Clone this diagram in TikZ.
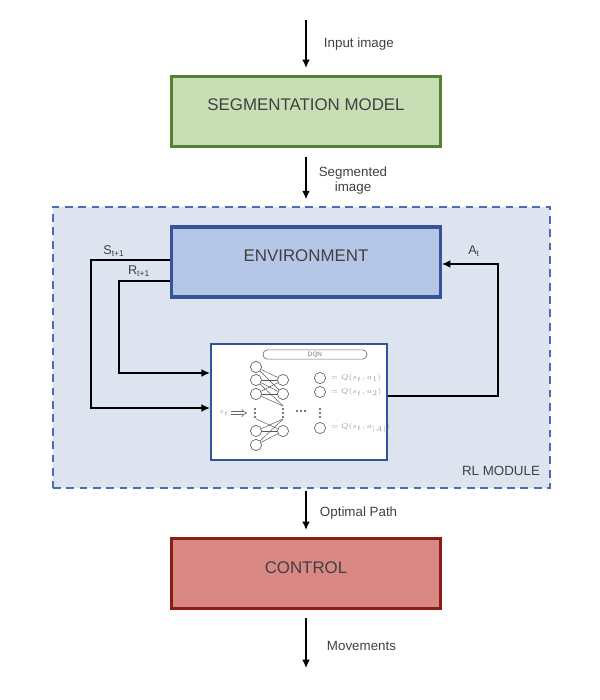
\documentclass[tikz,border=0pt]{standalone}
\usepackage{fontspec}
\setmainfont{Liberation Sans}
\usetikzlibrary{arrows.meta,positioning}
\definecolor{segfill}{HTML}{C8DFB6}
\definecolor{segline}{HTML}{548235}
\definecolor{envfill}{HTML}{B5C6E6}
\definecolor{envline}{HTML}{34539A}
\definecolor{ctrlfill}{HTML}{D98884}
\definecolor{ctrlline}{HTML}{8B1C18}
\definecolor{rlfill}{HTML}{DDE4F0}
\definecolor{rlline}{HTML}{4A6DB5}
\definecolor{txt}{HTML}{404040}
\tikzset{main box/.style={draw,line width=2.2pt,minimum width=6.72cm,minimum height=1.75cm,inner sep=0pt},
  box label/.style={font=\fontsize{12}{14}\selectfont,text=txt},
  small label/.style={font=\fontsize{9.5}{10.7}\selectfont,text=txt,align=center},
  flow/.style={line width=0.9pt,-{Latex[length=6pt,width=5.5pt]}},
  neuron/.style={circle,draw=gray!80!black,line width=0.5pt,minimum size=0.28cm,inner sep=0pt},
  wire/.style={gray!70!black,line width=0.35pt},
  tiny label/.style={font=\fontsize{4.5}{5}\selectfont,text=gray!80}}

\begin{document}
\begin{tikzpicture}[x=0.025cm,y=-0.025cm]
	\useasboundingbox (0,0) rectangle (600,700);
	% boxes
	\node[main box,fill=segfill,draw=segline] (seg) at (306,111.5) {};
	\node[box label] (segtext) at (306,104.5) {SEGMENTATION MODEL};
	\node[draw=rlline,fill=rlfill,line width=1pt,dash pattern=on 5.5pt off 4pt,minimum width=12.425cm,minimum height=7.025cm,inner sep=0pt] (rl) at (301.5,347.5) {};
	\node[box label,font=\fontsize{9.5}{11}\selectfont] (rltext) at (501,471) {RL MODULE};
	\node[main box,fill=envfill,draw=envline] (env) at (306,262) {};
	\node[box label] (envtext) at (306,256) {ENVIRONMENT};
	\node[draw=envline,fill=white,line width=1.6pt,minimum width=4.4cm,minimum height=2.9cm,inner sep=0pt] (dqn) at (299,402) {};
	\node[main box,fill=ctrlfill,draw=ctrlline] (ctrl) at (306,573.5) {};
	\node[box label] (ctrltext) at (306,567.5) {CONTROL};
	% main flow
	\coordinate (in) at (306,20);
	\coordinate (out) at (306,668);
	\draw[flow,shorten >=0.175cm] (in) -- (seg);
	\draw[flow,shorten <=0.225cm,shorten >=0.175cm] (seg) -- (seg |- rl.north);
	\draw[flow,shorten <=0.05cm,shorten >=0.175cm] (ctrl |- rl.south) -- (ctrl);
	\draw[flow,shorten <=0.2cm] (ctrl) -- (out);
	\node[small label,anchor=west] (inlabel) at (319,44) {Input image};
	\node[small label] (seglabel) at (353,181) {Segmented\\image};
	\node[small label,anchor=west] (optlabel) at (315,513) {Optimal Path};
	\node[small label,anchor=west] (movlabel) at (322,646) {Movements};
	% loop
	\draw[flow] (env.west |- 0,260) -- (91,260) -- (91,408) -- (dqn.west |- 0,408);
	\draw[flow] (env.west |- 0,281) -- (119,281) -- (119,373) -- (dqn.west |- 0,373);
	\draw[flow] (dqn.east |- 0,396) -- (498,396) -- (498,264) -- (env.east |- 0,264);
	\node[small label,font=\fontsize{9}{10}\selectfont] (slabel) at (114,251) {S\textsubscript{t+1}};
	\node[small label,font=\fontsize{9}{10}\selectfont] (rlabel) at (139,271) {R\textsubscript{t+1}};
	\node[small label,font=\fontsize{9}{10}\selectfont] (alabel) at (474,251) {A\textsubscript{t}};
	% DQN inside
	\node[draw=gray!80!black,line width=0.45pt,rounded corners=0.11cm,minimum width=2.6cm,minimum height=0.23cm,inner sep=0pt,tiny label,text=gray!90!black] (dqnname) at (315,354.5) {DQN};
	\foreach \i/\y in {1/367,2/380,3/394,4/431,5/445} \node[neuron] (l\i) at (256,\y) {};
	\foreach \i/\y in {1/380,2/394,3/431} \node[neuron] (h\i) at (283,\y) {};
	\foreach \i/\y in {1/378,2/392,3/428} \node[neuron] (o\i) at (320,\y) {};
	\coordinate (hd1) at (283,406);
	\coordinate (hd2) at (283,419);
	\coordinate (ld2) at (256,419);
	\foreach \a in {1,2,3} \foreach \b in {1,2} \draw[wire] (l\a) -- (h\b);
	\foreach \a in {2,3} \draw[wire] (l\a) -- (hd1);
	\foreach \a in {4,5} \draw[wire] (l\a) -- (h3);
	\draw[wire] (l4) -- (hd2);
	\draw[wire] (l5) -- (hd2);
	\draw[wire] (ld2) -- (h3);
	\foreach \x in {255,283,320} \foreach \y in {409,413,417} \fill[gray!60!black] (\x,\y) circle (0.03cm);
	\foreach \x in {297,301,305} \fill[gray!60!black] (\x,411) circle (0.03cm);
	\node[tiny label] (st) at (224,413) {$s_t$};
	\coordinate (sa) at (231,413);
	\coordinate (sb) at (247,413);
	\draw[gray!80!black,double,double distance=1.6pt,line width=0.4pt,-{Implies}] (sa) -- (sb);
	\node[tiny label,anchor=west] (q1) at (326,378) {$=Q(s_t,a_1)$};
	\node[tiny label,anchor=west] (q2) at (326,392) {$=Q(s_t,a_2)$};
	\node[tiny label,anchor=west] (q3) at (326,428) {$=Q(s_t,a_{|A|})$};
\end{tikzpicture}
\end{document}
